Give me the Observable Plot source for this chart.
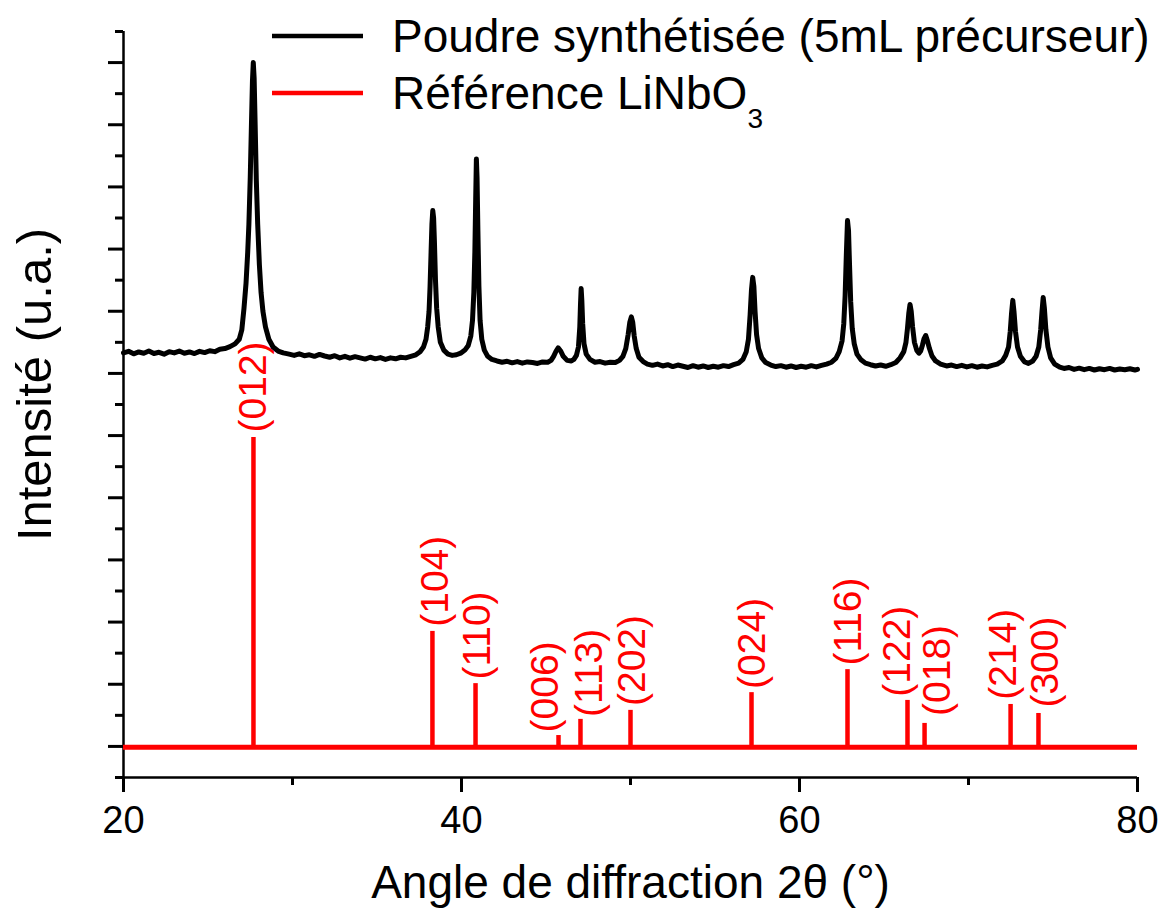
<!DOCTYPE html>
<html><head><meta charset="utf-8">
<script src="https://cdn.jsdelivr.net/npm/d3@7"></script>
<script src="https://cdn.jsdelivr.net/npm/@observablehq/plot@0.6"></script>
<style>body{margin:0;background:#fff;} #chart{width:1168px;height:915px;}</style>
</head><body><div id="chart"></div>
<script>
// ---- data ----
const xDomain = [20, 80];
const yDomain = [0, 24];
const xMajorTicks = [20, 40, 60, 80];
const xMinorTicks = [30, 50, 70];
const yMajorTicks = [1, 3, 5, 7, 9, 11, 13, 15, 17, 19, 21, 23];
const yMinorTicks = [0, 2, 4, 6, 8, 10, 12, 14, 16, 18, 20, 22, 24];

const xLabel = "Angle de diffraction 2θ (°)";
const yLabel = "Intensité (u.a.)";
const legendSample = "Poudre synthétisée (5mL précurseur)";
const legendRefMain = "Référence LiNbO";
const legendRefSub = "3";

// reference LiNbO3 pattern (red)
const redBaseline = 0.97;
const redHkl = ["(012)", "(104)", "(110)", "(006)", "(113)", "(202)", "(024)", "(116)", "(122)", "(018)", "(214)", "(300)"];
const redPos = [27.69, 38.28, 40.83, 45.74, 47.04, 50.0, 57.16, 62.84, 66.39, 67.4, 72.49, 74.14];
const redHeight = [10.94, 4.70, 3.02, 1.35, 1.87, 2.16, 2.73, 3.47, 2.48, 1.74, 2.35, 2.06];
// where each (hkl) label sits along 2θ (crowded ones are pushed apart)
const redLabelPos = [27.69, 38.45, 40.95, 44.97, 47.57, 50.1, 57.2, 62.9, 65.8, 68.17, 72.07, 74.56];
// intensity at which each label starts
const redLabelBase = [11.1, 4.85, 3.15, 1.45, 1.95, 2.3, 2.85, 3.6, 2.6, 1.98, 2.5, 2.25];

// measured powder pattern (black): [2theta, intensity]
const blackProfile = [
 [20.0,13.66],[20.3,13.71],[20.6,13.63],[20.9,13.69],[21.2,13.65],[21.5,13.72],[21.8,13.64],[22.1,13.68],[22.4,13.62],[22.7,13.7],
 [23.0,13.66],[23.3,13.72],[23.6,13.65],[23.9,13.69],[24.2,13.64],[24.5,13.71],[24.8,13.67],[25.1,13.73],[25.4,13.7],[25.7,13.78],
 [26.0,13.8],[26.3,13.86],[26.6,13.95],[26.85,14.1],[27.0,14.4],[27.13,15.1],[27.25,15.9],[27.35,16.9],[27.42,17.8],[27.5,19.3],
 [27.57,21.0],[27.63,22.4],[27.68,23.0],[27.73,22.5],[27.79,21.0],[27.86,19.2],[27.94,17.8],[28.04,16.5],[28.14,15.6],[28.25,15.0],
 [28.4,14.5],[28.6,14.1],[28.85,13.85],[29.15,13.72],[29.45,13.66],
 [29.8,13.62],[30.1,13.58],[30.4,13.63],[30.7,13.57],[31.0,13.6],[31.3,13.55],[31.6,13.61],[31.9,13.56],[32.2,13.52],[32.5,13.57],
 [32.8,13.5],[33.1,13.55],[33.4,13.49],[33.7,13.54],[34.0,13.5],[34.3,13.46],[34.6,13.52],[34.9,13.47],[35.2,13.51],[35.5,13.45],
 [35.8,13.5],[36.1,13.47],[36.4,13.52],[36.7,13.5],[37.0,13.55],[37.3,13.6],
 [37.55,13.7],[37.75,13.85],[37.9,14.1],[38.0,14.5],[38.08,15.0],[38.14,15.8],[38.2,16.9],[38.25,17.8],[38.3,18.24],[38.35,18.0],
 [38.4,17.2],[38.46,16.0],[38.53,15.1],[38.62,14.5],[38.75,14.0],[38.95,13.75],[39.2,13.62],[39.45,13.58],[39.7,13.6],
 [39.95,13.65],[40.2,13.75],[40.4,13.9],[40.55,14.2],[40.65,14.7],[40.73,15.6],[40.79,16.9],[40.84,18.6],[40.88,19.9],[40.92,19.3],
 [40.97,17.6],[41.03,15.8],[41.1,14.7],[41.2,14.1],[41.35,13.75],[41.55,13.55],[41.8,13.45],
 [42.1,13.4],[42.4,13.36],[42.7,13.39],[43.0,13.34],[43.3,13.38],[43.6,13.33],[43.9,13.37],[44.2,13.35],[44.5,13.32],[44.8,13.37],
 [45.1,13.36],[45.3,13.42],[45.45,13.55],[45.6,13.72],[45.72,13.82],[45.87,13.72],[46.02,13.55],[46.25,13.42],[46.5,13.4],
 [46.65,13.45],[46.8,13.58],[46.92,13.85],[47.0,14.5],[47.04,15.2],[47.08,15.73],[47.12,15.35],[47.17,14.6],[47.25,13.95],[47.38,13.62],
 [47.6,13.45],[47.9,13.36],[48.2,13.38],[48.5,13.33],[48.8,13.36],[49.1,13.35],
 [49.35,13.42],[49.55,13.55],[49.72,13.8],[49.86,14.25],[49.96,14.65],[50.05,14.82],[50.13,14.65],[50.22,14.2],[50.34,13.8],[50.5,13.52],
 [50.75,13.38],[51.0,13.3],
 [51.3,13.26],[51.6,13.3],[51.9,13.24],[52.2,13.28],[52.5,13.22],[52.8,13.27],[53.1,13.23],[53.4,13.19],[53.7,13.25],[54.0,13.2],
 [54.3,13.24],[54.6,13.19],[54.9,13.23],[55.2,13.2],[55.5,13.25],[55.8,13.22],[56.1,13.28],[56.4,13.33],
 [56.65,13.45],[56.85,13.7],[56.98,14.1],[57.08,14.9],[57.16,15.7],[57.23,16.09],[57.3,15.8],[57.37,15.0],[57.46,14.25],[57.58,13.8],
 [57.77,13.5],[58.0,13.35],[58.3,13.27],
 [58.6,13.22],[58.9,13.25],[59.2,13.2],[59.5,13.24],[59.8,13.19],[60.1,13.23],[60.4,13.2],[60.7,13.25],[61.0,13.21],[61.3,13.26],
 [61.6,13.3],[61.9,13.36],
 [62.15,13.48],[62.35,13.7],[62.52,14.05],[62.62,14.6],[62.7,15.5],[62.77,16.8],[62.84,17.92],[62.9,17.6],[62.96,16.5],[63.03,15.3],
 [63.12,14.45],[63.24,13.95],[63.4,13.62],[63.62,13.45],[63.9,13.33],[64.2,13.28],[64.5,13.24],[64.8,13.27],[65.1,13.23],[65.4,13.28],
 [65.7,13.35],[65.95,13.5],[66.17,13.7],[66.3,14.0],[66.39,14.45],[66.47,14.95],[66.54,15.22],[66.61,15.0],[66.69,14.5],[66.8,14.0],
 [66.94,13.74],[67.07,13.65],[67.17,13.72],[67.27,13.9],[67.37,14.12],[67.47,14.22],[67.57,14.05],[67.69,13.8],[67.84,13.56],[68.05,13.4],
 [68.35,13.3],
 [68.7,13.24],[69.0,13.27],[69.3,13.22],[69.6,13.26],[69.9,13.21],[70.2,13.25],[70.5,13.2],[70.8,13.24],[71.1,13.21],[71.4,13.26],
 [71.7,13.3],
 [72.0,13.4],[72.2,13.58],[72.37,13.85],[72.47,14.35],[72.55,14.95],[72.62,15.35],[72.69,15.0],[72.78,14.35],[72.9,13.85],[73.07,13.55],
 [73.3,13.38],[73.55,13.32],[73.8,13.4],[74.0,13.55],[74.16,13.85],[74.27,14.4],[74.35,15.0],[74.42,15.44],[74.49,15.1],[74.58,14.4],
 [74.7,13.85],[74.86,13.5],[75.1,13.3],[75.4,13.2],
 [75.65,13.16],[75.95,13.19],[76.25,13.13],[76.55,13.17],[76.85,13.12],[77.15,13.16],[77.45,13.11],[77.75,13.15],[78.05,13.12],[78.35,13.16],
 [78.65,13.11],[78.95,13.14],[79.25,13.12],[79.55,13.15],[79.85,13.11],[80.0,13.13]
];

// ---- build ----
const RED = "#ff0000";
const FONT = "'Liberation Sans', Arial, sans-serif";
const redPeaks = redHkl.map((hkl, i) => ({hkl, pos: redPos[i], h: redHeight[i], lx: redLabelPos[i], ly: redLabelBase[i]}));
const profile = blackProfile.map(([x, y]) => ({x, y}));

const chart = Plot.plot({
  width: 1168,
  height: 915,
  marginLeft: 123,
  marginRight: 31,
  marginTop: 31,
  marginBottom: 138,
  style: {fontFamily: FONT, background: "white", color: "black"},
  x: {domain: xDomain},
  y: {domain: yDomain},
  marks: [
    // axes
    Plot.axisX({ticks: xMajorTicks, tickSize: 15, tickPadding: 14, fontSize: 38, strokeWidth: 3, label: null}),
    Plot.axisX({ticks: xMinorTicks, tickSize: 8, text: null, strokeWidth: 3, label: null}),
    Plot.axisY({ticks: yMajorTicks, tickSize: 15, text: null, strokeWidth: 3, label: null}),
    Plot.axisY({ticks: yMinorTicks, tickSize: 8, text: null, strokeWidth: 3, label: null}),
    Plot.ruleY([yDomain[0]], {strokeWidth: 2.5}),
    Plot.ruleX([xDomain[0]], {strokeWidth: 2.5}),
    // reference pattern
    Plot.ruleY([redBaseline], {x1: xDomain[0], x2: xDomain[1], stroke: RED, strokeWidth: 5}),
    Plot.ruleX(redPeaks, {x: "pos", y1: redBaseline, y2: "h", stroke: RED, strokeWidth: 4.5}),
    Plot.text(redPeaks, {x: "lx", y: "ly", text: "hkl", rotate: -90, textAnchor: "start", lineAnchor: "middle",
      fill: RED, fontSize: 39}),
    // measured powder
    Plot.line(profile, {x: "x", y: "y", stroke: "black", strokeWidth: 5, strokeLinejoin: "round"}),
    // axis titles
    Plot.text([xLabel], {text: d => d, frameAnchor: "bottom", lineAnchor: "middle", dy: 106, fontSize: 46}),
    Plot.text([yLabel], {text: d => d, frameAnchor: "left", rotate: -90, textAnchor: "middle", lineAnchor: "middle", dx: -88, dy: -20, fontSize: 49})
  ]
});
document.getElementById("chart").appendChild(chart);

// legend (upper part of the plot)
const svg = d3.select(chart);
const lg = svg.append("g").attr("font-family", FONT).attr("font-size", 46).attr("text-anchor", "start");
const rows = [
  {stroke: "black", y: 36, main: legendSample, sub: null},
  {stroke: RED, y: 93, main: legendRefMain, sub: legendRefSub}
];
rows.forEach(r => {
  lg.append("line").attr("x1", 272).attr("x2", 363).attr("y1", r.y).attr("y2", r.y)
    .attr("stroke", r.stroke).attr("stroke-width", 4.5);
  const t = lg.append("text").attr("x", 392).attr("y", r.y + 16).attr("fill", "black")
    .attr("text-anchor", "start").text(r.main);
  if (r.sub) t.append("tspan").attr("font-size", 28).attr("dy", 19).text(r.sub);
});
</script></body></html>
